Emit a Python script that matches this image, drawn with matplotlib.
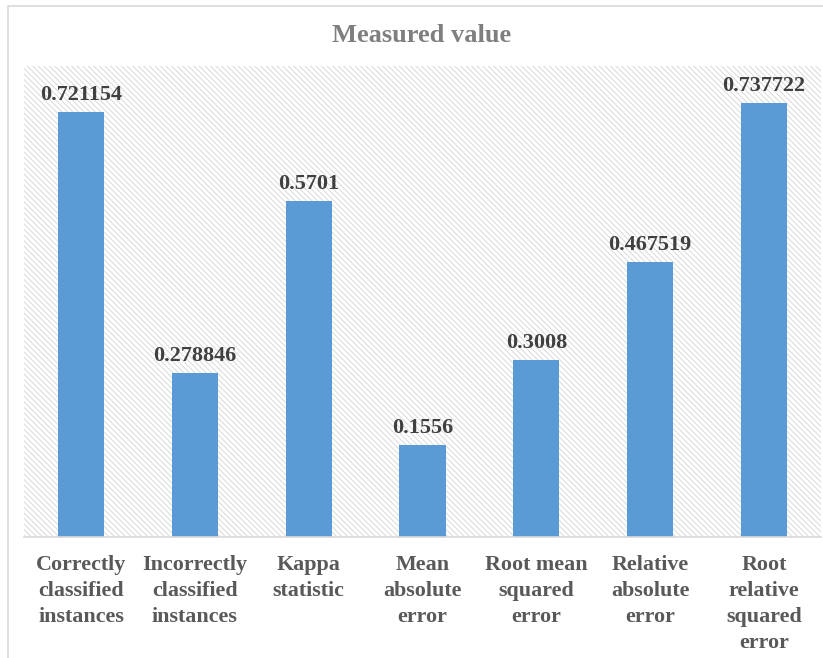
import matplotlib.pyplot as plt
from matplotlib.patches import Rectangle

# Valori misurati per ciascuna metrica
metrics = ['Correctly\nclassified\ninstances', 'Incorrectly\nclassified\ninstances',
           'Kappa\nstatistic', 'Mean\nabsolute\nerror', 'Root mean\nsquared\nerror',
           'Relative\nabsolute\nerror', 'Root\nrelative\nsquared\nerror']
values = [0.721154, 0.278846, 0.5701, 0.1556, 0.3008, 0.467519, 0.737722]
value_labels = ['0.721154', '0.278846', '0.5701', '0.1556', '0.3008', '0.467519', '0.737722']

plt.rcParams['font.family'] = ['Liberation Serif', 'DejaVu Serif']
plt.rcParams['hatch.color'] = '#d4d4d4'
plt.rcParams['hatch.linewidth'] = 0.6

fig = plt.figure(figsize=(8.23, 6.58), dpi=100)
ax = fig.add_axes([24 / 823, 1 - 537 / 658, 797 / 823, 471 / 658])

# Cornice esterna del grafico
fig.patches.append(Rectangle((8 / 823, -0.1), 1.2, 1 - 6 / 658 + 0.1,
                             transform=fig.transFigure, fill=False,
                             edgecolor='#d9d9d9', linewidth=1.2))

# Sfondo tratteggiato dell'area del grafico
ax.set_facecolor('white')
ax.add_patch(Rectangle((0, 0), 1, 1, transform=ax.transAxes, facecolor='white',
                       edgecolor='#d4d4d4', hatch='\\\\\\\\\\\\', linewidth=0, zorder=0))

x = range(len(values))
ax.bar(x, values, width=0.405, color='#5b9bd5', zorder=2)

for xi, v, lab in zip(x, values, value_labels):
    ax.text(xi, v + 0.012, lab, ha='center', va='bottom', fontsize=16,
            fontweight='bold', color='#404040')

ax.set_xlim(-0.5, len(values) - 0.5)
ax.set_ylim(0, 0.8)
ax.set_xticks(list(x))
ax.set_xticklabels(metrics, fontsize=15.8, fontweight='bold', color='#595959',
                   linespacing=1.4, va='top')
ax.tick_params(axis='x', length=0, pad=13)
ax.set_yticks([])

for side in ['top', 'left', 'right']:
    ax.spines[side].set_visible(False)
ax.spines['bottom'].set_color('#d9d9d9')
ax.spines['bottom'].set_linewidth(1.2)

fig.text(422 / 823, 1 - 36 / 658, 'Measured value', ha='center', va='center',
         fontsize=19, fontweight='bold', color='#7f7f7f')

fig.savefig('out.png', dpi=100)
